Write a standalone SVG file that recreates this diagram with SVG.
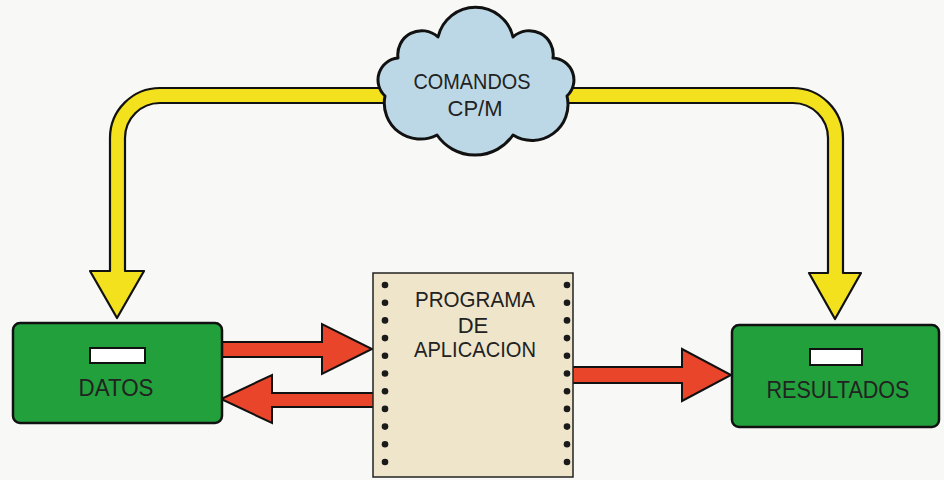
<svg xmlns="http://www.w3.org/2000/svg" width="944" height="480" viewBox="0 0 944 480">
<style>
.yel{fill:#f3e11e;stroke:#111;stroke-width:2.2;stroke-linejoin:round}
.red{fill:#e8452a;stroke:#111;stroke-width:2;stroke-linejoin:miter}
.box{fill:#22a03c;stroke:#111;stroke-width:2.5}
.slot{fill:#fff;stroke:#111;stroke-width:2}
.lbl{font-family:"Liberation Sans",Arial,sans-serif;fill:#222;text-anchor:middle}
.dot{fill:#1a1a1a}
</style>
<rect width="944" height="480" fill="#f8f8f6"/>
<g id="connectors">
  <path id="yellow-left" class="yel" d="M 392 88 L 160 88 A 50 50 0 0 0 110 138 L 110 271 L 90 271 L 117 318 L 144 271 L 125 271 L 125 138 A 35 35 0 0 1 160 103 L 392 103 Z"/>
  <path id="yellow-right" class="yel" d="M 560 88 L 793 88 A 50 50 0 0 1 843 138 L 843 273 L 861 273 L 835 319 L 809 273 L 828 273 L 828 138 A 35 35 0 0 0 793 103 L 560 103 Z"/>
  <path id="red-datos-prog" class="red" d="M 218 342 L 322 342 L 322 324 L 372 349 L 322 374 L 322 357 L 218 357 Z"/>
  <path id="red-prog-datos" class="red" d="M 378 393 L 272 393 L 272 375 L 221 399 L 272 423 L 272 407 L 378 407 Z"/>
  <path id="red-prog-res" class="red" d="M 570 367 L 682 367 L 682 349 L 731 375 L 682 401 L 682 383 L 570 383 Z"/>
</g>
<g id="cloud">
  <path d="M 385 96 A 22 22 0 0 1 398 58 A 24 24 0 0 1 438 37 A 38.5 38.5 0 0 1 513 37 A 24 24 0 0 1 553 58 A 22 22 0 0 1 567 96 A 36 36 0 0 1 513 135 A 46 46 0 0 1 437 135 A 36 36 0 0 1 385 96 Z" fill="#bcd8e6" stroke="#111" stroke-width="3" stroke-linejoin="round"/>
  <text class="lbl" x="472" y="89" font-size="22" textLength="117" lengthAdjust="spacingAndGlyphs">COMANDOS</text>
  <text class="lbl" x="475" y="116" font-size="22" textLength="55" lengthAdjust="spacingAndGlyphs">CP/M</text>
</g>
<g id="datos">
  <rect class="box" x="13" y="323" width="209" height="100" rx="7"/>
  <rect class="slot" x="90" y="348" width="55" height="15"/>
  <text class="lbl" x="116" y="396" font-size="23" textLength="75" lengthAdjust="spacingAndGlyphs">DATOS</text>
</g>
<g id="resultados">
  <rect class="box" x="732" y="325" width="207" height="102" rx="7"/>
  <rect class="slot" x="810" y="349" width="52" height="16"/>
  <text class="lbl" x="838" y="398" font-size="23" textLength="143" lengthAdjust="spacingAndGlyphs">RESULTADOS</text>
</g>
<g id="programa">
  <rect x="373" y="273" width="200" height="204" fill="#eee5cb" stroke="#222" stroke-width="1.5"/>
  <g class="dot">
    <circle cx="385" cy="285" r="3.3"/><circle cx="385" cy="302.7" r="3.3"/><circle cx="385" cy="320.4" r="3.3"/><circle cx="385" cy="338.1" r="3.3"/><circle cx="385" cy="355.8" r="3.3"/><circle cx="385" cy="373.5" r="3.3"/><circle cx="385" cy="391.2" r="3.3"/><circle cx="385" cy="408.9" r="3.3"/><circle cx="385" cy="426.6" r="3.3"/><circle cx="385" cy="444.3" r="3.3"/><circle cx="385" cy="462" r="3.3"/>
    <circle cx="567" cy="285" r="3.3"/><circle cx="567" cy="302.7" r="3.3"/><circle cx="567" cy="320.4" r="3.3"/><circle cx="567" cy="338.1" r="3.3"/><circle cx="567" cy="355.8" r="3.3"/><circle cx="567" cy="373.5" r="3.3"/><circle cx="567" cy="391.2" r="3.3"/><circle cx="567" cy="408.9" r="3.3"/><circle cx="567" cy="426.6" r="3.3"/><circle cx="567" cy="444.3" r="3.3"/><circle cx="567" cy="462" r="3.3"/>
  </g>
  <text class="lbl" x="475" y="307" font-size="22" textLength="120" lengthAdjust="spacingAndGlyphs">PROGRAMA</text>
  <text class="lbl" x="473" y="333" font-size="22">DE</text>
  <text class="lbl" x="475" y="357" font-size="22" textLength="122" lengthAdjust="spacingAndGlyphs">APLICACION</text>
</g>
</svg>
